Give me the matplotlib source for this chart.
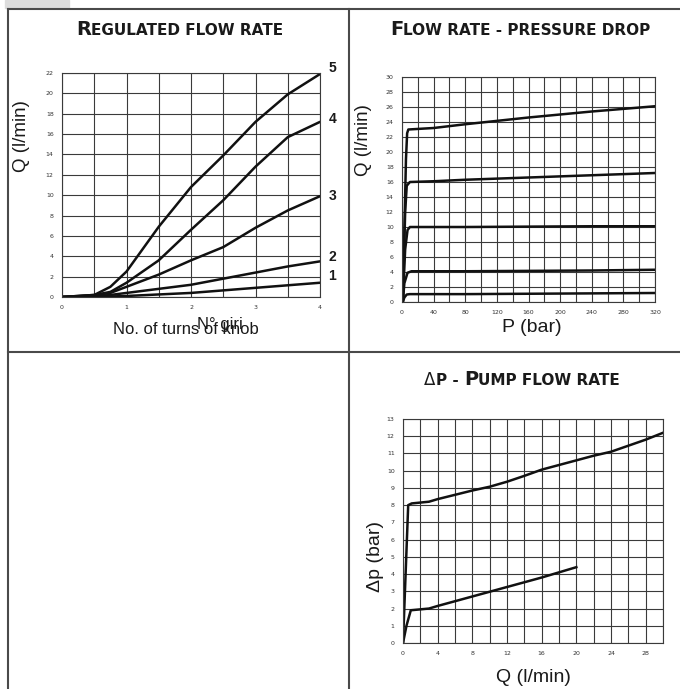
import matplotlib
matplotlib.use("Agg")
import matplotlib.pyplot as plt
from matplotlib.lines import Line2D
from matplotlib.patches import Rectangle

W, H = 680, 689

# --- regulated flow rate (Q vs turns of knob), one curve per label ---
turns = [0, 0.5, 0.75, 1, 1.5, 2, 2.5, 3, 3.5, 4]
q_curve5 = [0, 0.2, 1.0, 2.5, 6.9, 10.8, 13.9, 17.2, 19.9, 21.9]
q_curve4 = [0, 0.2, 0.5, 1.4, 3.6, 6.6, 9.5, 12.8, 15.7, 17.2]
q_curve3 = [0, 0.15, 0.4, 1.0, 2.2, 3.6, 4.9, 6.8, 8.5, 9.9]
q_curve2 = [0, 0.05, 0.2, 0.4, 0.8, 1.2, 1.8, 2.4, 3.0, 3.5]
q_curve1 = [0, 0.02, 0.05, 0.1, 0.25, 0.4, 0.65, 0.9, 1.15, 1.4]
curve_labels = ["5", "4", "3", "2", "1"]

# --- flow rate vs pressure drop ---
p_top = [1, 5, 6.5, 8, 40, 80, 160, 240, 320]
q_top = [0, 19, 22.5, 23.0, 23.2, 23.7, 24.6, 25.4, 26.1]
p_16 = [1, 4, 6, 10, 40, 80, 160, 240, 320]
q_16 = [0, 12, 15.5, 16.0, 16.1, 16.3, 16.6, 16.9, 17.2]
p_10 = [1, 4, 7, 10, 80, 160, 240, 320]
q_10 = [0, 7, 9.6, 10.0, 10.0, 10.05, 10.1, 10.1]
p_4 = [1, 3, 7, 12, 80, 160, 240, 320]
q_4 = [0, 2.5, 3.9, 4.1, 4.1, 4.15, 4.2, 4.3]
p_1 = [1, 3, 6, 10, 80, 160, 240, 320]
q_1 = [0, 0.6, 1.0, 1.05, 1.05, 1.1, 1.15, 1.2]

# --- delta p vs pump flow rate ---
qp_upper = [0, 0.3, 0.6, 1.0, 3, 4, 8, 10, 12, 14, 16, 20, 22, 24, 26, 28, 30]
dp_upper = [0, 4, 8.0, 8.1, 8.2, 8.35, 8.85, 9.07, 9.36, 9.7, 10.06, 10.6, 10.87, 11.1, 11.45, 11.8, 12.2]
qp_lower = [0, 0.4, 0.9, 3, 4, 8, 12, 16, 20]
dp_lower = [0, 1.0, 1.9, 2.0, 2.15, 2.7, 3.25, 3.8, 4.4]

fig = plt.figure(figsize=(W / 100, H / 100), dpi=100)
fig.patch.set_facecolor("white")


def fx(px):
    return px / W


def fy(py):
    return 1 - py / H


def add_ax(x0, y0, x1, y1):
    return fig.add_axes([fx(x0), fy(y1), (x1 - x0) / W, (y1 - y0) / H])


def style_grid(ax, xgrid, ygrid, xticks, yticks):
    ax.set_xticks(xgrid, minor=True)
    ax.set_yticks(ygrid, minor=True)
    ax.set_xticks(xticks)
    ax.set_yticks(yticks)
    ax.grid(True, which="both", color="#3a3a3a", lw=0.8)
    ax.tick_params(which="both", length=0, labelsize=4.5, colors="#333333", pad=6)
    for s in ax.spines.values():
        s.set_color("#3a3a3a")
        s.set_linewidth(0.8)
    ax.set_axisbelow(True)


def title(segments, cx, baseline):
    # small-caps look: big first letters, smaller rest, laid out side by side
    texts = [fig.text(0, fy(baseline), s, fontsize=sz, fontweight=wt,
                      family="DejaVu Sans", va="baseline", ha="left", color="#1a1a1a")
             for s, sz, wt in segments]
    r = fig.canvas.get_renderer()
    widths = [t.get_window_extent(r).width for t in texts]
    x = cx - sum(widths) / 2
    for t, w in zip(texts, widths):
        t.set_x(x / W)
        x += w


# frame lines and the grey tab
fig.patches.append(Rectangle((fx(5), fy(8)), 64 / W, 8 / H, transform=fig.transFigure,
                             color="#dcdcdc", zorder=0))
for xs, ys in [([7.5, 7.5], [9, 689]), ([7.5, 680], [9, 9]),
               ([349, 349], [9, 689]), ([7.5, 680], [352, 352])]:
    fig.add_artist(Line2D([fx(v) for v in xs], [fy(v) for v in ys],
                          transform=fig.transFigure, color="#4a4a4a", lw=1.5))

lbl = dict(family="Liberation Sans", color="#1a1a1a")

# panel 1
ax1 = add_ax(62, 73, 320, 297)
ax1.set_xlim(0, 4)
ax1.set_ylim(0, 22)
style_grid(ax1, [i * 0.5 for i in range(9)], list(range(0, 23, 2)),
           [0, 1, 2, 3, 4], list(range(0, 23, 2)))
label_offsets = [(6, 4), (6, 2), (6, 0), (6, 3), (6, 5)]
for q, name, off in zip([q_curve5, q_curve4, q_curve3, q_curve2, q_curve1],
                        curve_labels, label_offsets):
    ax1.plot(turns, q, color="#111111", lw=1.8, solid_capstyle="round")
    ax1.annotate(name, xy=(turns[-1], q[-1]), xytext=off, textcoords="offset points",
                 fontsize=10, fontweight="bold", va="center", ha="left",
                 annotation_clip=False, **lbl)
title([("R", 14, "bold"), ("EGULATED FLOW RATE", 11, "bold")], 180, 35)
# the original label has the Italian "N° giri" printed over the English one
fig.text(fx(186), fy(330), "No. of turns of knob", fontsize=12, ha="center", va="center", **lbl)
fig.text(fx(220), fy(325), "N° giri", fontsize=12, ha="center", va="center", **lbl)
fig.text(fx(22), fy(136), "Q (l/min)", fontsize=13.5, rotation=90, ha="center", va="center", **lbl)

# panel 2
ax2 = add_ax(402, 77, 655, 302)
ax2.set_xlim(0, 320)
ax2.set_ylim(0, 30)
style_grid(ax2, list(range(0, 321, 20)), list(range(0, 31, 2)),
           list(range(0, 321, 40)), list(range(0, 31, 2)))
for p, q in [(p_top, q_top), (p_16, q_16), (p_10, q_10), (p_4, q_4), (p_1, q_1)]:
    ax2.plot(p, q, color="#111111", lw=1.8)
title([("F", 14, "bold"), ("LOW RATE - PRESSURE DROP", 11, "bold")], 520, 35)
fig.text(fx(532), fy(328), "P (bar)", fontsize=14, ha="center", va="center", **lbl)
fig.text(fx(364), fy(140), "Q (l/min)", fontsize=13.5, rotation=90, ha="center", va="center", **lbl)

# panel 3
ax3 = add_ax(403, 419, 663, 643)
ax3.set_xlim(0, 30)
ax3.set_ylim(0, 13)
style_grid(ax3, list(range(0, 31, 2)), list(range(0, 14)),
           list(range(0, 29, 4)), list(range(0, 14)))
ax3.plot(qp_upper, dp_upper, color="#111111", lw=1.8)
ax3.plot(qp_lower, dp_lower, color="#111111", lw=1.8)
title([("Δ", 12, "normal"), ("P - ", 11, "bold"), ("P", 14, "bold"),
       ("UMP FLOW RATE", 11, "bold")], 522, 385)
fig.text(fx(533), fy(678), "Q (l/min)", fontsize=14, ha="center", va="center", **lbl)
fig.text(fx(375), fy(557), "Δp (bar)", fontsize=14, rotation=90, ha="center", va="center", **lbl)

fig.savefig("out.png", dpi=100)
